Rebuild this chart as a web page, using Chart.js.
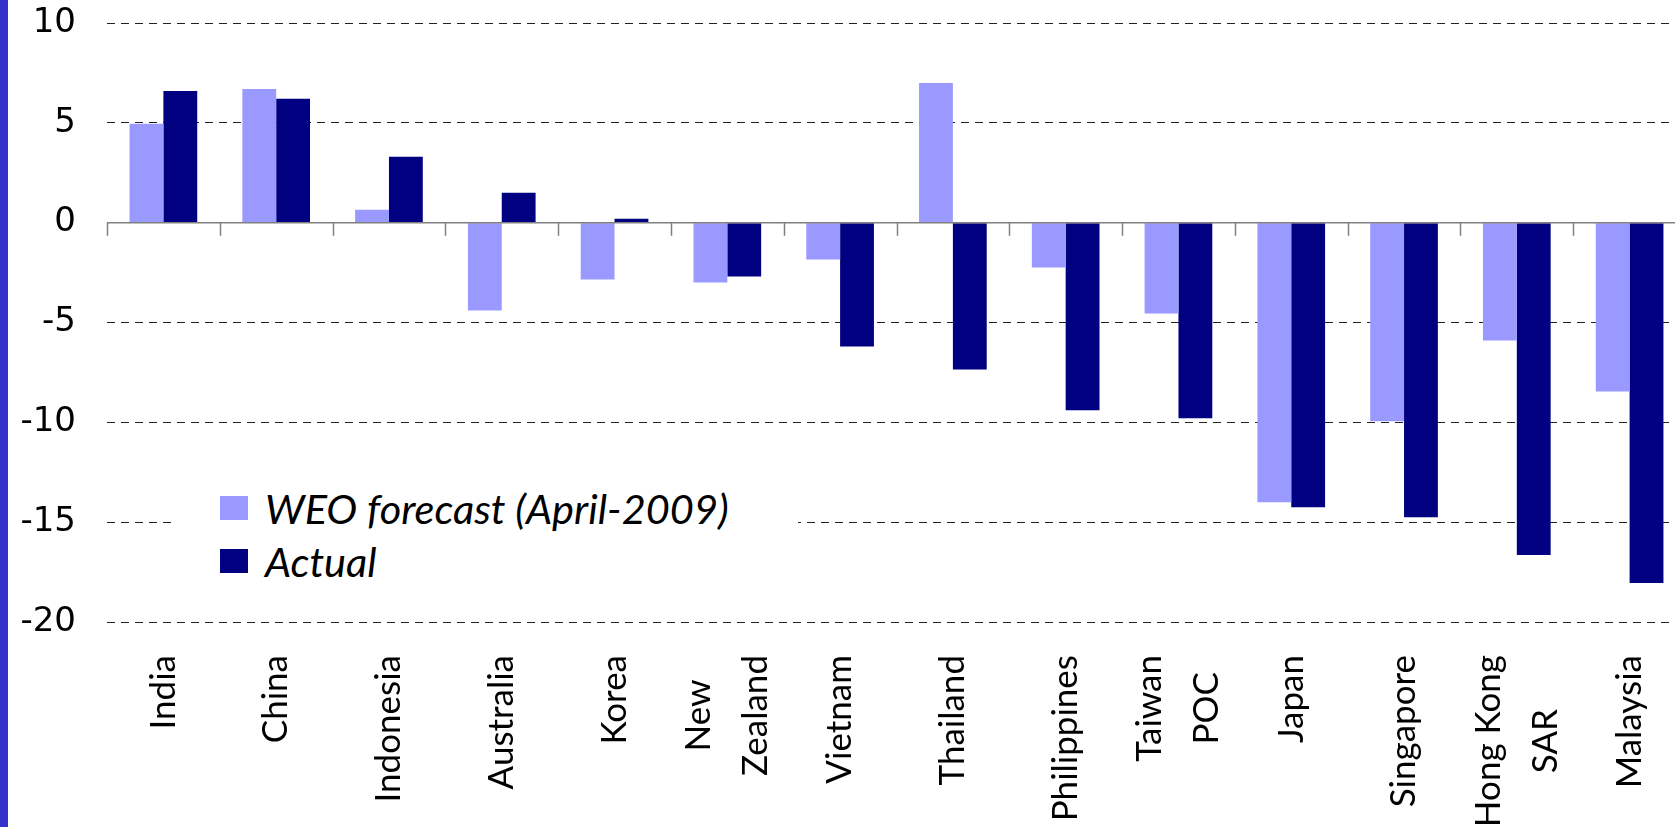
<!DOCTYPE html>
<html>
<head>
<meta charset="utf-8">
<script src="https://cdn.jsdelivr.net/npm/chart.js@4.4.0/dist/chart.umd.min.js"></script>
<style>
  html, body { margin: 0; padding: 0; background: #fff; overflow: hidden; }
  #wrap { position: relative; width: 1675px; height: 827px; overflow: hidden; }
  #strip { position: absolute; left: 0; top: 0; width: 8px; height: 827px; background: #3333cc; z-index: 3; }
  #legend { position: absolute; left: 172px; top: 472px; width: 626px; height: 122px; background: #fff; z-index: 2;
            font-family: Lato, "Open Sans", sans-serif; font-style: italic; font-size: 41.5px; color: #000; }
  .item { position: absolute; left: 48px; height: 40px; display: flex; align-items: center; white-space: nowrap; }
  .box { width: 28px; height: 24px; margin-right: 17px; flex: none; }
  canvas { position: absolute; left: 0; top: 0; }
</style>
</head>
<body>
<div id="wrap">
  <div id="strip"></div>
  <canvas id="growthChart" width="1686" height="827"></canvas>
  <div id="legend"></div>
</div>
<script>
// Data Block
const countries = ["India", "China", "Indonesia", "Australia", "Korea", ["New", "Zealand"], "Vietnam",
  "Thailand", "Philippines", ["Taiwan", "POC"], "Japan", "Singapore", ["Hong Kong", "SAR"], "Malaysia"];
const forecastValues = [4.95, 6.7, 0.65, -4.4, -2.85, -3.0, -1.85, 7.0, -2.25, -4.55, -14.0, -9.95, -5.9, -8.45];
const actualValues = [6.6, 6.2, 3.3, 1.5, 0.2, -2.7, -6.2, -7.35, -9.4, -9.8, -14.25, -14.75, -16.65, -18.05];
const yMin = -20;
const yMax = 10;
const yStep = 5;

const growthData = {
  labels: countries,
  datasets: [
    {
      label: "WEO forecast (April-2009)",
      data: forecastValues,
      backgroundColor: "#9999ff",
    },
    {
      label: "Actual",
      data: actualValues,
      backgroundColor: "#000080",
    },
  ],
};

// zero line with category tick marks hanging below it
const zeroAxis = {
  id: "zeroAxis",
  afterDatasetsDraw(chart) {
    const { ctx, scales: { x, y } } = chart;
    const y0 = y.getPixelForValue(0);
    ctx.save();
    ctx.strokeStyle = "#808080";
    ctx.lineWidth = 1.5;
    ctx.beginPath();
    ctx.moveTo(x.left, y0);
    ctx.lineTo(x.right, y0);
    for (let i = 0; i <= chart.data.labels.length; i++) {
      const px = Math.round(x.getPixelForValue(i - 0.5)) + 0.5;
      ctx.moveTo(px, y0);
      ctx.lineTo(px, y0 + 13);
    }
    ctx.stroke();
    ctx.restore();
  },
};

// vertical category labels; lines of a two-line label are centred on each other
const verticalLabels = {
  id: "verticalLabels",
  afterDraw(chart) {
    const { ctx, chartArea, scales: { x } } = chart;
    const top = chartArea.bottom + 33;
    const lineGap = 57;
    ctx.save();
    ctx.font = "35px Lato";
    ctx.fillStyle = "#000";
    ctx.textAlign = "center";
    ctx.textBaseline = "middle";
    chart.data.labels.forEach((label, i) => {
      const lines = Array.isArray(label) ? label : [label];
      const w = Math.max(...lines.map((l) => ctx.measureText(l).width));
      const cx = x.getPixelForValue(i);
      lines.forEach((line, j) => {
        ctx.save();
        ctx.translate(cx + (j - (lines.length - 1) / 2) * lineGap, top + w / 2);
        ctx.rotate(-Math.PI / 2);
        ctx.fillText(line, 0, 0);
        ctx.restore();
      });
    });
    ctx.restore();
  },
};

// Config Block
const growthConfig = {
  type: "bar",
  data: growthData,
  plugins: [zeroAxis, verticalLabels],
  options: {
    responsive: false,
    animation: false,
    layout: { padding: { top: 23, left: 0, right: 0, bottom: 0 } },
    datasets: {
      bar: { categoryPercentage: 0.6, barPercentage: 1.0 },
    },
    plugins: {
      legend: { display: false },
      tooltip: { enabled: false },
    },
    scales: {
      x: {
        grid: { display: false, drawTicks: false },
        border: { display: false },
        ticks: { display: false, autoSkip: false },
        afterFit(scale) {
          scale.height = 205;
          scale.paddingLeft = 0;
          scale.paddingRight = 0;
        },
      },
      y: {
        min: yMin,
        max: yMax,
        afterFit(scale) {
          scale.width = 107;
          scale.paddingTop = 0;
          scale.paddingBottom = 0;
        },
        grid: {
          drawTicks: false,
          color: (ctx) => (ctx.tick && ctx.tick.value === 0 ? "#808080" : "#222"),
          lineWidth: 1,
        },
        border: {
          display: false,
          dash: (ctx) => (ctx.tick && ctx.tick.value === 0 ? [] : [8, 6]),
        },
        ticks: {
          stepSize: yStep,
          padding: 31,
          color: "#000",
          font: { family: "DejaVu Sans", size: 34 },
        },
      },
    },
  },
};

// Render Block
const growthChart = new Chart(document.getElementById("growthChart"), growthConfig);

// legend drawn from the datasets, placed inside the plot like the original
const legendEl = document.getElementById("legend");
growthChart.data.datasets.forEach((ds, i) => {
  const item = document.createElement("div");
  item.className = "item";
  item.style.top = (16 + i * 53) + "px";
  const box = document.createElement("span");
  box.className = "box";
  box.style.background = ds.backgroundColor;
  const txt = document.createElement("span");
  txt.textContent = ds.label;
  item.appendChild(box);
  item.appendChild(txt);
  legendEl.appendChild(item);
});
</script>
</body>
</html>
